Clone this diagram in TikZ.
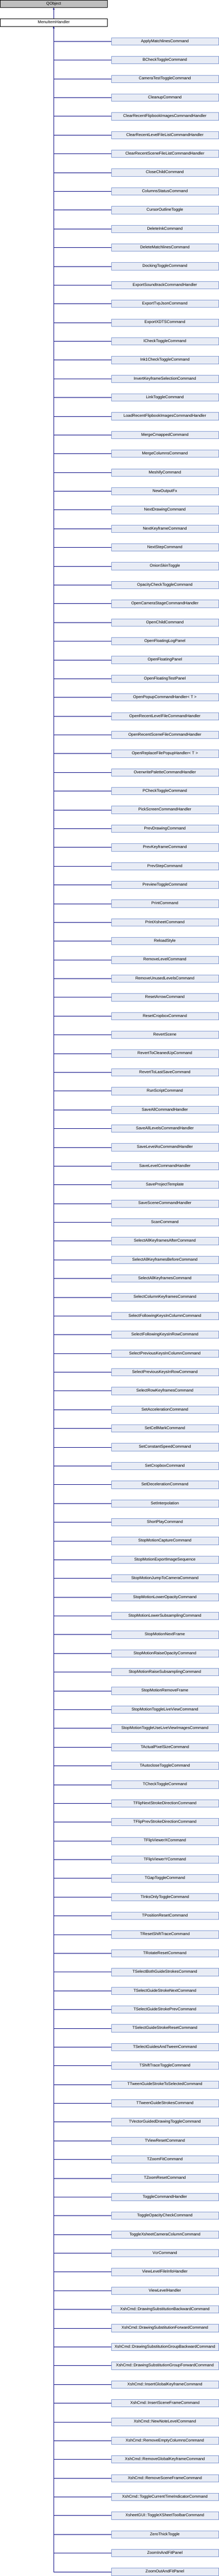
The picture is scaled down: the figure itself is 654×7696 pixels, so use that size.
\documentclass[tikz,border=0pt]{standalone}
\usepackage{fontspec}
\setmainfont{Liberation Sans}
\usetikzlibrary{arrows.meta}
\definecolor{boxfill}{HTML}{E8ECF5}
\definecolor{boxline}{HTML}{8098D0}
\definecolor{edgecol}{HTML}{000080}
\definecolor{extfill}{HTML}{BFBFBF}
\begin{document}
\begin{tikzpicture}[x=0.75pt,y=-0.75pt,
  base/.style={rectangle, line width=0.75pt, minimum width=240pt, minimum height=16.5pt,
    inner sep=0pt, text height=6.5pt, text depth=1.9pt, font=\fontsize{9}{10}\selectfont, anchor=center},
  extbox/.style={base, draw=black, fill=extfill},
  selfbox/.style={base, draw=black, fill=white},
  clsbox/.style={base, draw=boxline, fill=boxfill},
  edge/.style={draw=edgecol, line width=0.75pt},
  inherit/.style={edge, -{Triangle[width=3.75pt,length=4pt]}}]
\useasboundingbox (0,0) rectangle (654,7696);
\node[extbox] (qobject) at (160.5,11.5) {QObject};
\node[selfbox] (mih) at (160.5,67.5) {MenuItemHandler};
\draw[inherit] (mih.north) -- (qobject.south);
\foreach \cname [count=\i from 2] in {
ApplyMatchlinesCommand,
BCheckToggleCommand,
CameraTestToggleCommand,
CleanupCommand,
ClearRecentFlipbookImagesCommandHandler,
ClearRecentLevelFileListCommandHandler,
ClearRecentSceneFileListCommandHandler,
CloseChildCommand,
ColumnsStatusCommand,
CursorOutlineToggle,
DeleteInkCommand,
DeleteMatchlinesCommand,
DockingToggleCommand,
ExportSoundtrackCommandHandler,
ExportTvpJsonCommand,
ExportXDTSCommand,
ICheckToggleCommand,
Ink1CheckToggleCommand,
InvertKeyframeSelectionCommand,
LinkToggleCommand,
LoadRecentFlipbookImagesCommandHandler,
MergeCmappedCommand,
MergeColumnsCommand,
MeshifyCommand,
NewOutputFx,
NextDrawingCommand,
NextKeyframeCommand,
NextStepCommand,
OnionSkinToggle,
OpacityCheckToggleCommand,
OpenCameraStageCommandHandler,
OpenChildCommand,
OpenFloatingLogPanel,
OpenFloatingPanel,
OpenFloatingTestPanel,
OpenPopupCommandHandler< T >,
OpenRecentLevelFileCommandHandler,
OpenRecentSceneFileCommandHandler,
OpenReplaceFilePopupHandler< T >,
OverwritePaletteCommandHandler,
PCheckToggleCommand,
PickScreenCommandHandler,
PrevDrawingCommand,
PrevKeyframeCommand,
PrevStepCommand,
PreviewToggleCommand,
PrintCommand,
PrintXsheetCommand,
ReloadStyle,
RemoveLevelCommand,
RemoveUnusedLevelsCommand,
ResetArrowCommand,
ResetCropboxCommand,
RevertScene,
RevertToCleanedUpCommand,
RevertToLastSaveCommand,
RunScriptCommand,
SaveAllCommandHandler,
SaveAllLevelsCommandHandler,
SaveLevelAsCommandHandler,
SaveLevelCommandHandler,
SaveProjectTemplate,
SaveSceneCommandHandler,
ScanCommand,
SelectAllKeyframesAfterCommand,
SelectAllKeyframesBeforeCommand,
SelectAllKeyframesCommand,
SelectColumnKeyframesCommand,
SelectFollowingKeysInColumnCommand,
SelectFollowingKeysInRowCommand,
SelectPreviousKeysInColumnCommand,
SelectPreviousKeysInRowCommand,
SelectRowKeyframesCommand,
SetAccelerationCommand,
SetCellMarkCommand,
SetConstantSpeedCommand,
SetCropboxCommand,
SetDecelerationCommand,
SetInterpolation,
ShortPlayCommand,
StopMotionCaptureCommand,
StopMotionExportImageSequence,
StopMotionJumpToCameraCommand,
StopMotionLowerOpacityCommand,
StopMotionLowerSubsamplingCommand,
StopMotionNextFrame,
StopMotionRaiseOpacityCommand,
StopMotionRaiseSubsamplingCommand,
StopMotionRemoveFrame,
StopMotionToggleLiveViewCommand,
StopMotionToggleUseLiveViewImagesCommand,
TActualPixelSizeCommand,
TAutocloseToggleCommand,
TCheckToggleCommand,
TFlipNextStrokeDirectionCommand,
TFlipPrevStrokeDirectionCommand,
TFlipViewerXCommand,
TFlipViewerYCommand,
TGapToggleCommand,
TInksOnlyToggleCommand,
TPositionResetCommand,
TResetShiftTraceCommand,
TRotateResetCommand,
TSelectBothGuideStrokesCommand,
TSelectGuideStrokeNextCommand,
TSelectGuideStrokePrevCommand,
TSelectGuideStrokeResetCommand,
TSelectGuidesAndTweenCommand,
TShiftTraceToggleCommand,
TTweenGuideStrokeToSelectedCommand,
TTweenGuideStrokesCommand,
TVectorGuidedDrawingToggleCommand,
TViewResetCommand,
TZoomFitCommand,
TZoomResetCommand,
ToggleCommandHandler,
ToggleOpacityCheckCommand,
ToggleXsheetCameraColumnCommand,
VcrCommand,
ViewLevelFileInfoHandler,
ViewLevelHandler,
XshCmd::DrawingSubstitutionBackwardCommand,
XshCmd::DrawingSubstitutionForwardCommand,
XshCmd::DrawingSubstitutionGroupBackwardCommand,
XshCmd::DrawingSubstitutionGroupForwardCommand,
XshCmd::InsertGlobalKeyframeCommand,
XshCmd::InsertSceneFrameCommand,
XshCmd::NewNoteLevelCommand,
XshCmd::RemoveEmptyColumnsCommand,
XshCmd::RemoveGlobalKeyframeCommand,
XshCmd::RemoveSceneFrameCommand,
XshCmd::ToggleCurrentTimeIndicatorCommand,
XsheetGUI::ToggleXSheetToolbarCommand,
ZeroThickToggle,
ZoomInAndFitPanel,
ZoomOutAndFitPanel}{
  \node[clsbox] (c\i) at (492.5, 56*\i+11.5) {\cname};
}
\draw[inherit] (mih.south |- c137.west) -- (mih.south);
\foreach \i in {2,...,137} {
  \draw[edge] (mih.south |- c\i.west) -- (c\i.west);
}
\end{tikzpicture}
\end{document}
